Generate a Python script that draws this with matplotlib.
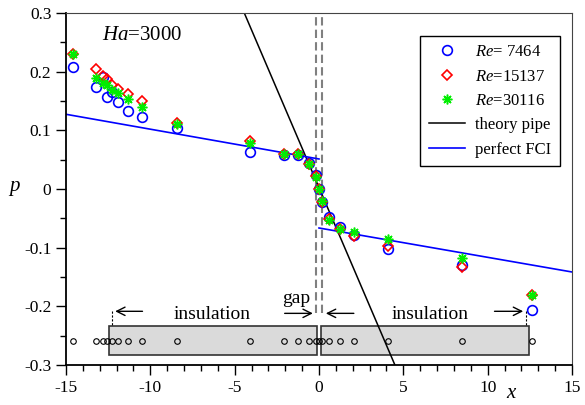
import numpy as np
import matplotlib.pyplot as plt
from matplotlib.patches import Rectangle

plt.rcParams["font.family"] = "Liberation Serif"
plt.rcParams["mathtext.fontset"] = "custom"
plt.rcParams["mathtext.rm"] = "Liberation Serif"
plt.rcParams["mathtext.it"] = "Liberation Serif:italic"
plt.rcParams["axes.unicode_minus"] = False

# probe positions along the duct
x_probe = [-14.6, -13.2, -12.8, -12.55, -12.3, -11.9, -11.3, -10.5, -8.4, -4.1, -2.05,
           -1.23, -0.62, -0.2, 0.0, 0.2, 0.62, 1.23, 2.07, 4.1, 8.45, 12.6]

# measured pressure for the three Reynolds numbers
p_re1 = [0.208, 0.174, 0.191, 0.157, 0.165, 0.149, 0.1335, 0.123, 0.1035, 0.063, 0.058,
         0.058, 0.044, 0.024, 0.0, -0.022, -0.048, -0.064, -0.078, -0.102, -0.1295, -0.206]
p_re2 = [0.2295, 0.205, 0.192, 0.187, 0.177, 0.170, 0.162, 0.150, 0.113, 0.081, 0.060,
         0.059, 0.043, 0.022, 0.0, -0.022, -0.052, -0.068, -0.080, -0.0966, -0.1335, -0.1807]
p_re3 = [0.2295, 0.189, 0.181, 0.177, 0.169, 0.163, 0.153, 0.140, 0.111, 0.079, 0.060,
         0.059, 0.042, 0.021, 0.0, -0.021, -0.053, -0.069, -0.0736, -0.085, -0.118, -0.1807]
re_labels = ["$Re$= 7464", "$Re$=15137", "$Re$=30116"]

# model lines
theory_x = [-4.43, 4.5]
theory_p = [0.3, -0.3]
fci_left_x = [-15, 0]
fci_left_p = [0.1273, 0.0511]
fci_right_x = [0, 15]
fci_right_p = [-0.0665, -0.1415]

# insulation segments and gap
ins_left = (-12.43, -0.1)
ins_right = (0.1, 12.47)
gap_x = [-0.2, 0.2]

fig = plt.figure(figsize=(5.85, 4.05), dpi=100)
ax = fig.add_axes([0.1128, 0.0988, 0.865, 0.8692])

# insulation boxes
for x0, x1 in [ins_left, ins_right]:
    ax.add_patch(Rectangle((x0, -0.283), x1 - x0, 0.05, facecolor="#dadada",
                           edgecolor="#333333", linewidth=1.2, zorder=1))
ax.plot(x_probe, [-0.2585] * len(x_probe), "o", ms=4, mfc="none", mec="black",
        mew=0.8, zorder=3)

ax.vlines(gap_x, -0.212, 0.3, colors="#808080", linestyles=(0, (4, 2)), linewidth=1.5, zorder=2)

l_theory, = ax.plot(theory_x, theory_p, color="black", lw=1.1, zorder=2)
l_fci, = ax.plot(fci_left_x, fci_left_p, color="blue", lw=1.2, zorder=2)
ax.plot(fci_right_x, fci_right_p, color="blue", lw=1.2, zorder=2)

h1, = ax.plot(x_probe, p_re1, "o", ms=7, mfc="none", mec="blue", mew=1.2, zorder=4)
h2, = ax.plot(x_probe, p_re2, "D", ms=5.5, mfc="none", mec="red", mew=1.2, zorder=5)
h3, = ax.plot(x_probe, p_re3, marker=(8, 2, 0), ls="none", ms=7, mec="#00ee00", mew=1.1, zorder=6)

# annotations
arr = dict(arrowstyle="->", color="black", lw=1.0, mutation_scale=15)
ax.annotate("", xy=(-12.25, -0.2085), xytext=(-10.3, -0.2085), arrowprops=arr)
ax.annotate("", xy=(12.27, -0.2085), xytext=(10.24, -0.2085), arrowprops=arr)
ax.annotate("", xy=(-0.2, -0.212), xytext=(-2.2, -0.212), arrowprops=arr)
ax.annotate("", xy=(0.24, -0.212), xytext=(2.23, -0.212), arrowprops=arr)
ax.plot([-12.25, -12.25], [-0.2085, -0.2335], color="black", lw=0.8, ls=(0, (2, 1.5)))
ax.plot([12.3, 12.3], [-0.2085, -0.2335], color="black", lw=0.8, ls=(0, (2, 1.5)))
ax.text(-6.33, -0.222, "insulation", fontsize=14, ha="center", va="baseline")
ax.text(6.6, -0.222, "insulation", fontsize=14, ha="center", va="baseline")
ax.text(-1.34, -0.195, "gap", fontsize=14, ha="center", va="baseline")
ax.text(-12.86, 0.254, "$Ha$=3000", fontsize=15, ha="left", va="baseline")

ax.set_xlim(-15, 15)
ax.set_ylim(-0.3, 0.3)
ax.set_xticks(np.arange(-15, 16, 5))
ax.set_xticks(np.arange(-15, 16, 1), minor=True)
ax.set_yticks(np.arange(-0.3, 0.31, 0.1))
ax.set_yticks(np.arange(-0.3, 0.31, 0.05), minor=True)
ax.set_yticklabels(["-0.3", "-0.2", "-0.1", "0", "0.1", "0.2", "0.3"])
ax.tick_params(which="both", direction="out", labelsize=12.5, width=1.0)
ax.tick_params(which="major", length=7)
ax.tick_params(which="minor", length=4)
ax.spines["left"].set_linewidth(1.3)
ax.spines["bottom"].set_linewidth(1.3)
ax.spines["top"].set_color("#444444")
ax.spines["right"].set_color("#444444")

fig.text(15 / 585, 1 - 189 / 405, "$p$", fontsize=15, ha="center", va="center")
fig.text(512 / 585, 2 / 405, "$x$", fontsize=15, ha="center", va="bottom")

leg = ax.legend([h1, h2, h3, l_theory, l_fci],
                re_labels + ["theory pipe", "perfect FCI"],
                loc="upper left", bbox_to_anchor=(0.70, 0.935), borderaxespad=0,
                fontsize=12, fancybox=False, framealpha=1, edgecolor="black",
                handlelength=2.2, handletextpad=0.6, labelspacing=0.5, borderpad=0.5)
leg.get_frame().set_linewidth(1.0)

fig.savefig("out.png", dpi=100)
